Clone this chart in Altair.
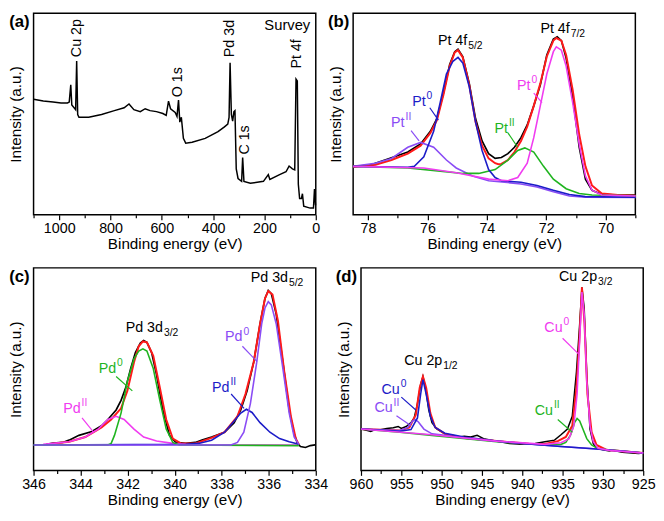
import altair as alt
import pandas as pd

FONT = "Liberation Sans"
BLACK = "#000000"
RED = "#ff1a1a"
BLUE = "#1c1cc8"
VIOLET = "#8a4cf5"
MAGENTA = "#f03cf0"
GREEN = "#1fb41f"

panel_letters = ["(a)", "(b)", "(c)", "(d)"]

# ---------------- (a) survey ----------------
a_energy = [1100, 1062, 1024, 993, 968, 961, 955, 951, 942, 936, 932, 928, 923, 885, 835,
            785, 747, 728, 709, 684, 665, 646, 621, 596, 583, 574, 566, 548, 541, 535,
            530, 524, 516, 507, 482, 431, 381, 356, 343, 338, 334, 329, 324, 319, 315,
            310, 303, 289, 285, 280, 255, 204, 185, 179, 141, 116, 104, 91, 82, 77,
            72, 68, 63, 56, 52, 47, 22, 9, 5, 1]
a_intensity = [121, 119, 118, 117, 117, 118, 136, 115, 112, 110, 161, 105, 102, 102, 105,
               109, 112, 116, 110, 108, 111, 109, 108, 106, 104, 119, 111, 107, 103, 120,
               97, 102, 80, 75, 76, 80, 87, 92, 95, 102, 159, 105, 98, 108, 109,
               48, 38, 35, 60, 35, 33, 35, 42, 37, 42, 45, 51, 48, 47, 142,
               140, 32, 17, 17, 22, 9, 7, 7, 27, 10]
a_peak_text = ["Cu 2p", "O 1s", "Pd 3d", "C 1s", "Pt 4f"]
a_peak_energy = [930, 536, 334, 274, 72]
a_peak_intensity = [165, 123, 165, 63, 153]
a_note = ["Survey"]
a_note_energy = [21.6]
a_note_intensity = [199]

# ---------------- (b) Pt 4f ----------------
b_black_E = [78.5, 77.97, 77.75, 77.21, 76.66, 76.23, 75.90, 75.68, 75.46, 75.25, 75.08, 74.97,
             74.81, 74.59, 74.38, 74.16, 73.94, 73.72, 73.51, 73.29, 73.07, 72.85, 72.64, 72.42,
             72.20, 71.98, 71.76, 71.63, 71.49, 71.33, 71.11, 70.89, 70.68, 70.46, 70.13, 69.59, 68.99]
b_black_I = [50.7, 51.7, 54, 59.7, 65.7, 74, 87.3, 100.7, 127.3, 157.3, 170.7, 173.3,
             165.7, 137.3, 100.7, 77.3, 64, 59, 60, 64, 70.7, 80.7, 94, 114,
             135.7, 167.3, 184, 186.3, 182.3, 164, 124, 70.7, 37.3, 25.7, 21.3, 20.7, 20.7]
b_red_E = [78.5, 77.75, 77.21, 76.66, 76.23, 75.90, 75.68, 75.46, 75.25, 75.08, 74.97, 74.81,
           74.59, 74.38, 74.16, 73.94, 73.72, 73.61, 73.51, 73.29, 73.07, 72.85, 72.64, 72.42,
           72.20, 71.98, 71.76, 71.66, 71.49, 71.33, 71.11, 70.89, 70.68, 70.46, 70.13, 69.59, 68.99]
b_red_I = [50, 52.3, 57.3, 64, 72.3, 85.7, 99, 125.7, 155.7, 170, 172.3, 164.7,
           135.7, 97.3, 72.3, 59, 54, 53, 53.3, 57.3, 65.7, 77.3, 92.3, 114,
           137.3, 165.7, 182.3, 185, 182.3, 167.3, 130.7, 84, 50.7, 30.7, 22.3, 20.7, 20]
b_blue_E = [78.5, 76.66, 76.44, 76.12, 75.79, 75.57, 75.36, 75.14, 74.97, 74.81, 74.59,
            74.38, 74.16, 73.94, 73.72, 73.51, 72.85, 72.31, 71.76, 71.22, 70.68, 68.99]
b_blue_I = [50.7, 49.7, 50.7, 60.7, 87.3, 117.3, 147.3, 160.7, 164.7, 159, 134,
            97.3, 67.3, 47.3, 39, 35.7, 34, 30.7, 25.7, 21.3, 19, 18.3]
b_magenta_E = [78.5, 76.12, 75.03, 73.94, 73.29, 72.96, 72.64, 72.42, 72.20, 71.98,
               71.76, 71.66, 71.49, 71.33, 71.11, 70.89, 70.68, 70.46, 70.13, 68.99]
b_magenta_I = [50.7, 49, 44, 37.3, 35.7, 39, 54, 80.7, 114, 147.3,
               170.7, 175.7, 172.3, 155.7, 117.3, 74, 40.7, 25.7, 20.7, 19.7]
b_violet_E = [78.5, 77.75, 77.21, 76.66, 76.23, 75.79, 75.36, 75.03, 74.48, 73.94,
              73.40, 72.85, 72.31, 71.76, 71.22, 70.68, 68.99]
b_violet_I = [50.7, 54, 59, 70.7, 75.7, 70.7, 57.3, 49, 40.7, 35.7,
              34, 32.3, 29, 24, 19.7, 18.3, 18]
b_green_E = [78.5, 76.66, 75.57, 74.81, 74.27, 73.72, 73.29, 72.96, 72.72, 72.42,
             72.09, 71.76, 71.33, 70.89, 70.46, 68.99]
b_green_I = [50.7, 49, 45.7, 43.3, 43.3, 47.3, 57.3, 67.3, 70, 65.7,
             50.7, 37.3, 27.3, 22.3, 20.7, 20]
b_ann_main = ["Pt 4f", "Pt 4f", "Pt", "Pt", "Pt", "Pt"]
b_ann_script = ["5/2", "7/2", "0", "II", "II", "0"]
b_ann_kind = ["sub", "sub", "sup", "sup", "sup", "sup"]
b_ann_color = [BLACK, BLACK, BLUE, VIOLET, GREEN, MAGENTA]
b_ann_energy = [74.66, 71.21, 76.06, 76.77, 73.29, 72.53]
b_ann_intensity = [178, 190.7, 114, 92.3, 85.7, 130.7]
b_ptr_color = [BLUE, VIOLET, GREEN, MAGENTA]
b_ptr_E1 = [75.92, 76.55, 73.29, 72.42]
b_ptr_I1 = [112, 88, 85.7, 127.3]
b_ptr_E2 = [75.63, 76.28, 72.96, 72.14]
b_ptr_I2 = [99, 77.3, 70.7, 117.3]

# ---------------- (c) Pd 3d ----------------
c_black_E = [345.45, 345.17, 344.76, 344.49, 344.07, 343.52, 343.11, 342.84, 342.49, 342.28,
             342.08, 341.87, 341.67, 341.46, 341.32, 341.18, 340.98, 340.77, 340.50, 340.22,
             339.95, 339.53, 339.12, 338.84, 338.43, 337.88, 337.47, 337.19, 336.92, 336.64,
             336.37, 336.16, 336.02, 335.89, 335.68, 335.40, 335.13, 334.92, 334.78, 334.65,
             334.44, 334.23, 334.03]
c_black_I = [27.3, 28.7, 29.3, 31.7, 36.7, 40.7, 46.7, 53.3, 63.3, 73.3,
             86.7, 106.7, 123.3, 133.3, 136, 134, 123.3, 100, 63.3, 36.7,
             29.3, 28.3, 29.3, 31.7, 35, 40, 50, 63.3, 83.3, 113.3,
             153.3, 180, 188.3, 185, 163.3, 113.3, 63.3, 38.3, 28.3, 25,
             24, 26, 26.7]
c_red_E = [345.45, 344.49, 343.80, 343.11, 342.70, 342.28, 342.01, 341.73, 341.53, 341.35,
           341.18, 340.91, 340.63, 340.36, 340.08, 339.74, 339.12, 338.43, 337.88, 337.33,
           336.99, 336.64, 336.37, 336.16, 336.02, 335.84, 335.61, 335.34, 335.06, 334.85, 334.72]
c_red_I = [27.3, 30, 35, 45, 53.3, 65, 83.3, 113.3, 130, 135,
           134, 120, 86.7, 53.3, 33.3, 28.3, 28.3, 34, 40, 56.7,
           80, 113.3, 153.3, 180, 187.7, 184, 156.7, 103.3, 56.7, 33.3, 27.3]
c_green_E = [346, 342.84, 342.70, 342.56, 342.28, 342.01, 341.73, 341.53, 341.35, 341.18,
             340.91, 340.63, 340.36, 340.08, 339.81, 334.72]
c_green_I = [26.7, 26.7, 28.3, 36.7, 60, 93.3, 116.7, 125, 127.3, 125,
             106.7, 73.3, 43.3, 29.3, 26.7, 26]
c_magenta_E = [345.59, 344.49, 343.80, 343.25, 342.84, 342.49, 342.15, 341.73, 341.32, 340.77,
               340.08, 339.53, 338.98, 334.72]
c_magenta_I = [27.3, 30, 35, 43.3, 53.3, 56.7, 53.3, 43.3, 35, 30.7,
               28.3, 27.3, 26.7, 26.7]
c_violet_E = [346, 337.61, 337.33, 337.06, 336.78, 336.51, 336.30, 336.16, 336.02, 335.89,
              335.68, 335.40, 335.13, 334.92, 334.72]
c_violet_I = [26.7, 26.7, 29.3, 40, 70, 113.3, 153.3, 170, 176.7, 173.3,
              153.3, 106.7, 60, 35, 27.3]
c_blue_E = [346, 339.53, 338.98, 338.43, 337.88, 337.47, 337.19, 336.95, 336.71, 336.37,
            335.95, 335.54, 335.13, 334.72]
c_blue_I = [26.7, 27.3, 28.3, 31.7, 40, 51.7, 60, 64, 60.7, 50,
            40, 33.3, 30, 27.3]
c_ann_main = ["Pd 3d", "Pd 3d", "Pd", "Pd", "Pd", "Pd"]
c_ann_script = ["3/2", "5/2", "0", "II", "0", "II"]
c_ann_kind = ["sub", "sub", "sup", "sup", "sup", "sup"]
c_ann_color = [BLACK, BLACK, GREEN, MAGENTA, VIOLET, BLUE]
c_ann_energy = [340.5, 335.18, 342.49, 344.0, 337.12, 337.67]
c_ann_intensity = [145, 196.7, 101.7, 60, 135, 81.7]
c_ptr_color = [GREEN, MAGENTA, VIOLET, BLUE]
c_ptr_E1 = [342.49, 343.94, 337.12, 337.6]
c_ptr_I1 = [98.3, 55, 130, 80]
c_ptr_E2 = [341.80, 343.45, 336.5, 337.05]
c_ptr_I2 = [83.3, 40, 114, 65]

# ---------------- (d) Cu 2p ----------------
d_black_E = [960, 959.2, 958.8, 958.4, 957.6, 956.8, 956, 955.4, 955, 954.4,
             953.8, 953.4, 953, 952.6, 952.32, 952, 951.6, 951.2, 950.6, 949.6,
             948.8, 948, 947.2, 946.4, 945.6, 944.8, 943.2, 941.6, 940, 938.4,
             937.2, 936, 935.2, 934.4, 933.8, 933.28, 932.88, 932.6, 932.32, 932,
             931.6, 931.2, 930.8, 930, 929.2, 928.8, 927.6, 926.4, 925.6, 925]
d_black_I = [43.3, 41.7, 40.7, 42.3, 42.7, 44, 44.7, 46, 44, 46,
             50, 55, 70, 90, 98.3, 86.7, 63.3, 50, 43.3, 38.3,
             36.7, 34.7, 35.7, 35, 36.7, 33.3, 30.7, 28.3, 27.3, 28.3,
             30, 31.7, 37.3, 43.3, 56.7, 103.3, 153.3, 191.7, 170, 100,
             43.3, 28.3, 23.3, 21.7, 20.3, 21, 19, 18.3, 17.7, 18.3]
d_red_E = [960, 955.2, 954, 953.2, 952.72, 952.32, 951.92, 951.4, 950.8, 949.6,
           947.2, 943.2, 939.2, 937.2, 935.6, 934.6, 933.8, 933.28, 932.92, 932.6,
           932.28, 931.92, 931.4, 930.8, 929.6, 925]
d_red_I = [43.3, 41.7, 45, 58.3, 86.7, 98.3, 86.7, 60, 45, 38.3,
           34, 30.7, 28, 27.7, 30.7, 35, 46.7, 86.7, 136.7, 191.7,
           153.3, 80, 40, 26.7, 21.7, 18.3]
d_blue_E = [960, 955.2, 953.8, 953, 952.6, 952.32, 951.92, 951.4, 950.8, 949.6,
            947.2, 943.2, 939.2, 935.2, 931.2, 925]
d_blue_I = [43.3, 41, 42.7, 55, 80, 95, 80, 56.7, 45, 39,
            35, 30.7, 27.7, 25, 22.7, 18.3]
d_violet_E = [960, 955.2, 954.2, 953.6, 953.28, 952.88, 952.2, 951.2, 949.6, 947.2,
              943.2, 939.2, 935.2, 931.2, 927.2, 925]
d_violet_I = [43.3, 41.7, 45, 51.7, 53.3, 50.7, 43.3, 38.3, 36.7, 34,
              30.7, 27.7, 25, 22.7, 20, 18.3]
d_magenta_E = [960, 951.2, 943.2, 937.2, 935.2, 934.2, 933.6, 933.2, 932.88, 932.6,
               932.32, 932, 931.6, 931.2, 930.6, 929.2, 925]
d_magenta_I = [43.3, 37.3, 30.7, 27.3, 29, 33.3, 46.7, 80, 136.7, 186.7,
               163.3, 93.3, 46.7, 30, 23.3, 21, 18.3]
d_green_E = [960, 955.2, 951.2, 943.2, 937.2, 935.2, 934.6, 934, 933.52, 933.2,
             932.88, 932.48, 932, 931.4, 930.6, 925]
d_green_I = [43.3, 40, 36.7, 30, 26.7, 27.3, 29.3, 37.3, 50, 54.3,
             51.7, 43.3, 33.3, 26.7, 22.7, 18.3]
d_ann_main = ["Cu 2p", "Cu 2p", "Cu", "Cu", "Cu", "Cu"]
d_ann_script = ["3/2", "1/2", "0", "II", "0", "II"]
d_ann_kind = ["sub", "sub", "sup", "sup", "sup", "sup"]
d_ann_color = [BLACK, BLACK, MAGENTA, GREEN, BLUE, VIOLET]
d_ann_energy = [930.72, 949.92, 935.0, 936.2, 955.2, 956.08]
d_ann_intensity = [198.3, 110, 145, 58.3, 80, 60.7]
d_ptr_color = [MAGENTA, GREEN, BLUE, VIOLET]
d_ptr_E1 = [935.0, 935.6, 955.0, 955.6]
d_ptr_I1 = [138.3, 53.3, 76.7, 57.3]
d_ptr_E2 = [933.0, 933.8, 953.2, 953.8]
d_ptr_I2 = [121.7, 40, 63.3, 46.7]

# tick values
a_ticks = list(range(0, 1101, 100))
b_ticks = list(range(69, 79))
c_ticks = list(range(334, 347))
d_ticks = [925 + 2.5 * k for k in range(15)]

PW = 287
H1 = 205
H2 = 206
LABEL_SIZE = 14.5
TITLE_SIZE = 15.5
ANN_SIZE = 14.5
SCRIPT_SIZE = 10.5


def make_panel(letter, curves, x_domain, y_domain, ticks, major_test, height,
               ann=None, ptr=None, rot=None, note=None):
    xs = alt.Scale(domain=x_domain, nice=False, zero=False)
    ys = alt.Scale(domain=y_domain, nice=False, zero=False)
    xaxis = alt.Axis(
        title="Binding energy (eV)", values=ticks, format="d",
        labelExpr=f"({major_test}) ? datum.label : ''",
        tickSize={"condition": {"test": major_test, "value": 5}, "value": 3},
        grid=False, domain=False, labelOverlap=False, labelFlush=False,
        labelPadding=2, titlePadding=2, labelFontSize=LABEL_SIZE,
        titleFontSize=TITLE_SIZE, labelFont=FONT, titleFont=FONT,
        titleFontWeight="normal", labelColor=BLACK, titleColor=BLACK,
        tickColor=BLACK, tickWidth=1.2,
    )
    yaxis = alt.Axis(title="Intensity (a.u.)", labels=False, ticks=False,
                     domain=False, grid=False, titlePadding=10,
                     titleFontSize=TITLE_SIZE, titleFont=FONT,
                     titleFontWeight="normal", titleColor=BLACK)

    def X(f):
        return alt.X(f, type="quantitative", scale=xs, axis=xaxis)

    def Y(f):
        return alt.Y(f, type="quantitative", scale=ys, axis=yaxis)

    layers = []
    for E, I, color, w in curves:
        df = pd.DataFrame({"E": E, "I": I})
        layers.append(alt.Chart(df).mark_line(color=color, strokeWidth=w).encode(
            x=X("E"), y=Y("I")))
    if ptr is not None:
        cols, e1, i1, e2, i2 = ptr
        df = pd.DataFrame({"c": cols, "E1": e1, "I1": i1, "E2": e2, "I2": i2})
        layers.append(alt.Chart(df).mark_rule(strokeWidth=1.2).encode(
            x=X("E1"), y=Y("I1"), x2="E2:Q", y2="I2:Q",
            color=alt.Color("c:N", scale=None)))
    if ann is not None:
        main, script, kind, cols, en, it = ann
        df = pd.DataFrame({"m": main, "s": script, "k": kind, "c": cols, "E": en, "I": it})
        base = alt.Chart(df)
        layers.append(base.mark_text(align="right", baseline="alphabetic", fontSize=ANN_SIZE,
                                     font=FONT).encode(
            x=X("E"), y=Y("I"), text="m:N", color=alt.Color("c:N", scale=None)))
        layers.append(base.transform_filter(alt.datum.k == "sub").mark_text(
            align="left", baseline="alphabetic", fontSize=SCRIPT_SIZE, dx=1, dy=4, font=FONT).encode(
            x=X("E"), y=Y("I"), text="s:N", color=alt.Color("c:N", scale=None)))
        layers.append(base.transform_filter(alt.datum.k == "sup").mark_text(
            align="left", baseline="alphabetic", fontSize=SCRIPT_SIZE, dx=1, dy=-7, font=FONT).encode(
            x=X("E"), y=Y("I"), text="s:N", color=alt.Color("c:N", scale=None)))
    if rot is not None:
        txt, en, it = rot
        df = pd.DataFrame({"t": txt, "E": en, "I": it})
        layers.append(alt.Chart(df).mark_text(angle=270, align="left", baseline="middle",
                                              fontSize=ANN_SIZE, font=FONT, color=BLACK).encode(
            x=X("E"), y=Y("I"), text="t:N"))
    if note is not None:
        txt, en, it = note
        df = pd.DataFrame({"t": txt, "E": en, "I": it})
        layers.append(alt.Chart(df).mark_text(align="right", baseline="middle",
                                              fontSize=15, font=FONT, color=BLACK).encode(
            x=X("E"), y=Y("I"), text="t:N"))
    df = pd.DataFrame({"t": [letter]})
    layers.append(alt.Chart(df).mark_text(align="right", baseline="middle", fontSize=17,
                                          fontWeight="bold", font=FONT, color=BLACK).encode(
        x=alt.value(-4), y=alt.value(9), text="t:N"))
    return alt.layer(*layers).properties(width=PW, height=height)


pa = make_panel(panel_letters[0], [(a_energy, a_intensity, BLACK, 1.5)],
                [1100, 0], [0, 211], a_ticks, "datum.value % 200 === 0", H1,
                rot=(a_peak_text, a_peak_energy, a_peak_intensity),
                note=(a_note, a_note_energy, a_note_intensity))

pb = make_panel(panel_letters[1],
                [(b_black_E, b_black_I, BLACK, 1.7), (b_red_E, b_red_I, RED, 2),
                 (b_violet_E, b_violet_I, VIOLET, 1.6), (b_green_E, b_green_I, GREEN, 1.6),
                 (b_blue_E, b_blue_I, BLUE, 1.6), (b_magenta_E, b_magenta_I, MAGENTA, 1.6)],
                [78.5, 69], [0, 211], b_ticks, "datum.value % 2 === 0", H1,
                ann=(b_ann_main, b_ann_script, b_ann_kind, b_ann_color, b_ann_energy, b_ann_intensity),
                ptr=(b_ptr_color, b_ptr_E1, b_ptr_I1, b_ptr_E2, b_ptr_I2))

pc = make_panel(panel_letters[2],
                [(c_black_E, c_black_I, BLACK, 1.7), (c_red_E, c_red_I, RED, 2),
                 (c_magenta_E, c_magenta_I, MAGENTA, 1.6), (c_blue_E, c_blue_I, BLUE, 1.6),
                 (c_green_E, c_green_I, GREEN, 1.6), (c_violet_E, c_violet_I, VIOLET, 1.6)],
                [346, 334], [0, 212], c_ticks, "datum.value % 2 === 0", H2,
                ann=(c_ann_main, c_ann_script, c_ann_kind, c_ann_color, c_ann_energy, c_ann_intensity),
                ptr=(c_ptr_color, c_ptr_E1, c_ptr_I1, c_ptr_E2, c_ptr_I2))

pd_ = make_panel(panel_letters[3],
                 [(d_black_E, d_black_I, BLACK, 1.5), (d_red_E, d_red_I, RED, 2),
                  (d_green_E, d_green_I, GREEN, 1.6), (d_violet_E, d_violet_I, VIOLET, 1.6),
                  (d_blue_E, d_blue_I, BLUE, 1.6), (d_magenta_E, d_magenta_I, MAGENTA, 1.6)],
                 [960, 925], [0, 212], d_ticks, "datum.value % 5 === 0", H2,
                 ann=(d_ann_main, d_ann_script, d_ann_kind, d_ann_color, d_ann_energy, d_ann_intensity),
                 ptr=(d_ptr_color, d_ptr_E1, d_ptr_I1, d_ptr_E2, d_ptr_I2))

chart = alt.vconcat(
    alt.hconcat(pa, pb, spacing=6),
    alt.hconcat(pc, pd_, spacing=6),
    spacing=14,
).properties(
    padding={"left": 0, "top": 0, "right": 0, "bottom": 0},
    background="white",
).configure(font=FONT).configure_view(
    stroke=BLACK, strokeWidth=1.5
)

chart.save("out.html", embed_options={"renderer": "svg", "actions": False})
